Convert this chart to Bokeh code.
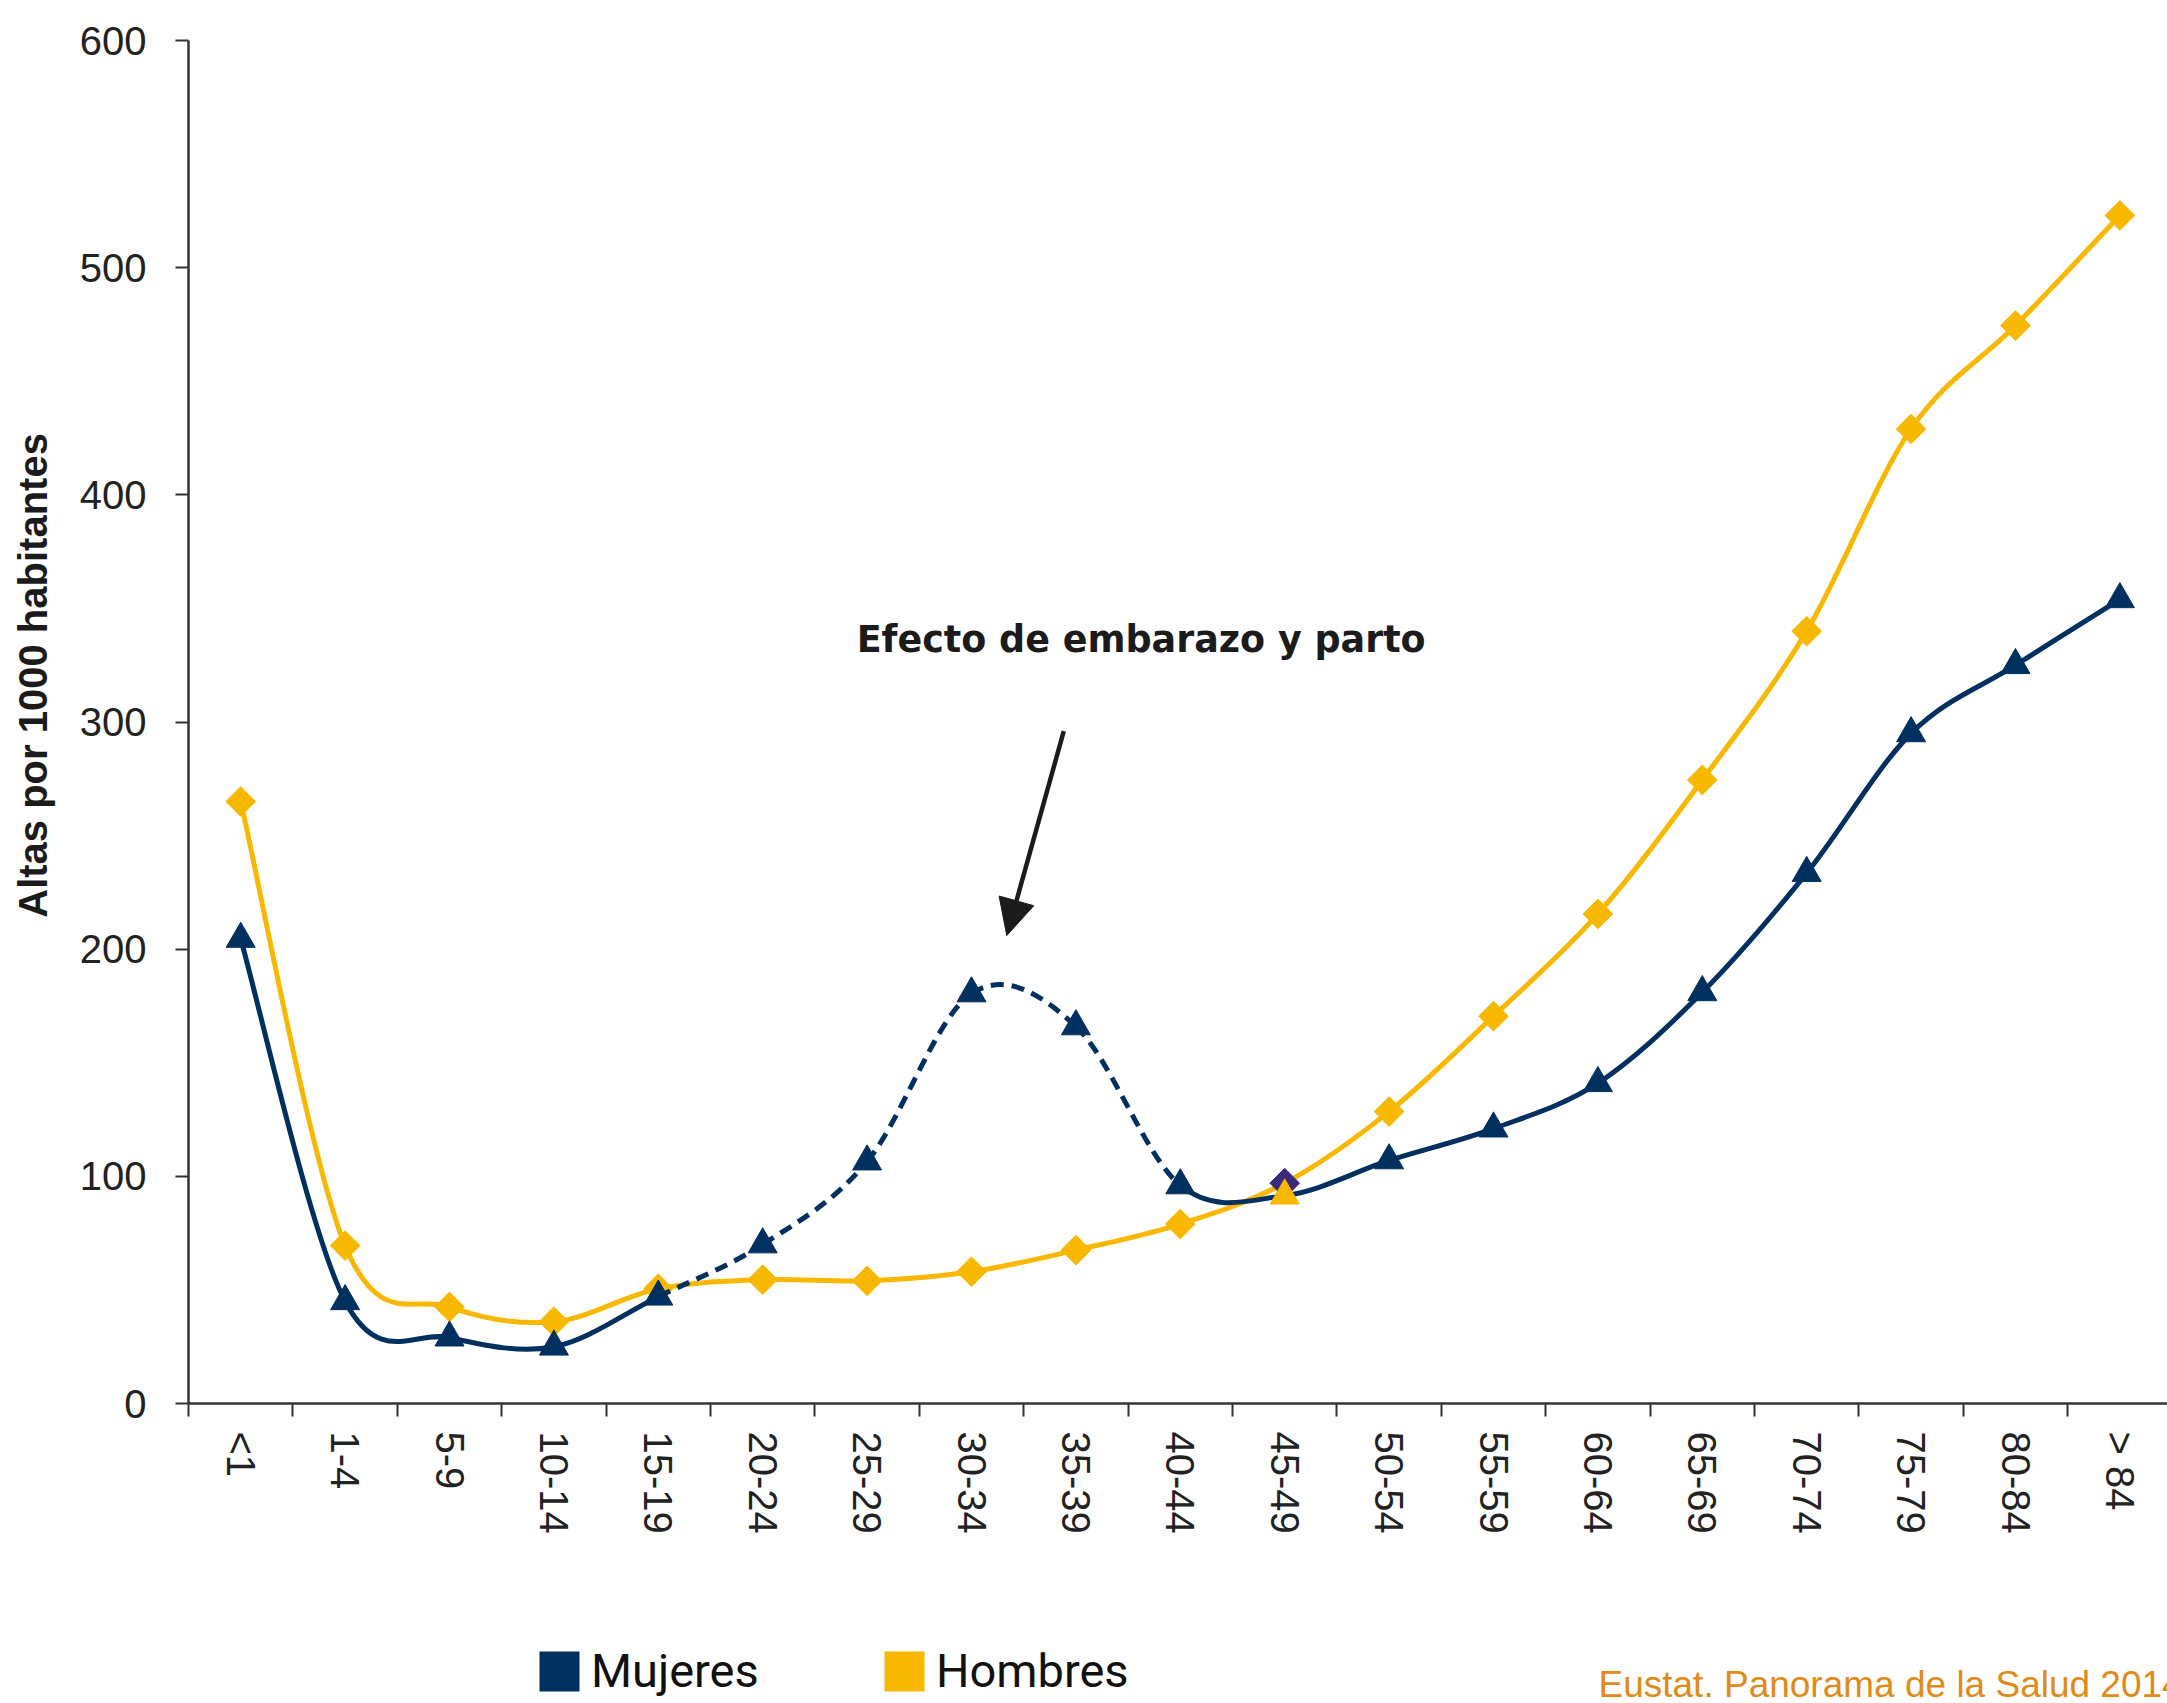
import math
from bokeh.plotting import figure
from bokeh.layouts import column, row
from bokeh.models import (Range1d, FixedTicker, Label, Arrow, NormalHead, Legend,
                          LegendItem, ColumnDataSource)
from bokeh.embed import file_html
from bokeh.resources import INLINE

# ---------------- data ----------------
age_groups = ["<1", "1-4", "5-9", "10-14", "15-19", "20-24", "25-29", "30-34", "35-39",
              "40-44", "45-49", "50-54", "55-59", "60-64", "65-69", "70-74", "75-79",
              "80-84", "> 84"]
mujeres = [204.5, 45, 29, 25, 47, 70, 106.5, 180.5, 166, 96, 91.5, 107, 121, 141, 181,
           233.5, 295, 325, 354]
hombres = [265, 69.5, 42.5, 36, 50.5, 54.5, 54, 58, 67.5, 79, 97, 128.5, 170.5, 215.5,
           274.5, 340, 429, 474.5, 523]
y_ticks = [0, 100, 200, 300, 400, 500, 600]
dashed_from, dashed_to = "15-19", "40-44"   # pregnancy effect section (dashed)
swapped_marker_group = "45-49"              # markers swapped colours in the original

series_names = ["Mujeres", "Hombres"]
annotation_text = "Efecto de embarazo y parto"
y_title = "Altas por 1000 habitantes"
source_text = "Eustat. Panorama de la Salud 2014"

NAVY = "#00305f"
GOLD = "#f8b800"
PURPLE = "#3a2a7d"
INK = "#1b1b1b"
AXIS = "#333333"
SOURCE = "#e08a1a"

# ---------------- helpers ----------------
xs = [i + 0.5 for i in range(len(age_groups))]


def bezier_source(x, y, i_from, i_to):
    """Cubic Bezier (Catmull-Rom style, like a spreadsheet 'smoothed line')."""
    n = len(x)
    d = dict(x0=[], y0=[], x1=[], y1=[], cx0=[], cy0=[], cx1=[], cy1=[])
    for i in range(i_from, i_to):
        i0 = max(i - 1, 0)
        i3 = min(i + 2, n - 1)
        d["x0"].append(x[i]); d["y0"].append(y[i])
        d["x1"].append(x[i + 1]); d["y1"].append(y[i + 1])
        d["cx0"].append(x[i] + (x[i + 1] - x[i0]) / 6)
        d["cy0"].append(y[i] + (y[i + 1] - y[i0]) / 6)
        d["cx1"].append(x[i + 1] - (x[i3] - x[i]) / 6)
        d["cy1"].append(y[i + 1] - (y[i3] - y[i]) / 6)
    return ColumnDataSource(d)


N = len(age_groups)
i_d0 = age_groups.index(dashed_from)
i_d1 = age_groups.index(dashed_to)
i_sw = age_groups.index(swapped_marker_group)

# ---------------- layout sizes ----------------
W, H = 2167, 1703
TITLE_W = 60                 # strip holding the y-axis title
MAIN_H = 1570                # main chart height
BOTTOM_H = H - MAIN_H        # strip holding legend + source
FRAME_L, FRAME_T = 188, 40
FRAME_B = MAIN_H - 1403
px_per_cat = 104.4
main_w = W - TITLE_W
x_end = (W - FRAME_L) / px_per_cat

p = figure(width=main_w, height=MAIN_H, output_backend="svg", toolbar_location=None,
           x_range=Range1d(0, x_end), y_range=Range1d(0, 600),
           min_border_left=FRAME_L - TITLE_W, min_border_right=0, min_border_top=FRAME_T,
           min_border_bottom=FRAME_B)
p.outline_line_color = None
p.xgrid.visible = False
p.ygrid.visible = False

# axes
xa = p.xaxis[0]
xa.ticker = FixedTicker(ticks=xs, minor_ticks=list(range(N + 1)))
xa.major_label_overrides = {x: lab for x, lab in zip(xs, age_groups)}
xa.major_tick_out = 0
xa.major_tick_in = 0
xa.minor_tick_out = 13
xa.minor_tick_in = 0
xa.minor_tick_line_color = AXIS
xa.minor_tick_line_width = 2
xa.axis_line_color = AXIS
xa.axis_line_width = 2.5
xa.major_label_orientation = -math.pi / 2
xa.major_label_standoff = 15
xa.major_label_text_font = "Liberation Sans"
xa.major_label_text_font_size = "40px"
xa.major_label_text_color = "#222222"

ya = p.yaxis[0]
ya.ticker = FixedTicker(ticks=y_ticks)
ya.minor_tick_line_color = None
ya.major_tick_out = 13
ya.major_tick_in = 0
ya.major_tick_line_color = AXIS
ya.major_tick_line_width = 2
ya.axis_line_color = AXIS
ya.axis_line_width = 2.5
ya.major_label_standoff = 29
ya.major_label_text_font = "Liberation Sans"
ya.major_label_text_font_size = "40px"
ya.major_label_text_color = "#222222"

# ---------------- series ----------------
seg = dict(x0="x0", y0="y0", x1="x1", y1="y1", cx0="cx0", cy0="cy0", cx1="cx1", cy1="cy1")
# Hombres (drawn first, underneath)
p.bezier(**seg, source=bezier_source(xs, hombres, 0, N - 1), line_color=GOLD, line_width=5)
h_colors = [PURPLE if i == i_sw else GOLD for i in range(N)]
p.scatter(x=xs, y=hombres, marker="square", angle=math.pi / 4, size=21,
          fill_color=h_colors, line_color=h_colors, line_width=1)

# Mujeres: solid, dashed, solid
p.bezier(**seg, source=bezier_source(xs, mujeres, 0, i_d0), line_color=NAVY, line_width=5)
p.bezier(**seg, source=bezier_source(xs, mujeres, i_d0, i_d1), line_color=NAVY,
         line_width=5, line_dash="13 8")
p.bezier(**seg, source=bezier_source(xs, mujeres, i_d1, N - 1), line_color=NAVY, line_width=5)
m_colors = [GOLD if i == i_sw else NAVY for i in range(N)]
p.scatter(x=xs, y=mujeres, marker="triangle", size=29,
          fill_color=m_colors, line_color=m_colors, line_width=1)

# ---------------- annotation ----------------
p.add_layout(Label(x=6.40, y=336.3, text=annotation_text, text_font="DejaVu Sans",
                   text_font_style="bold", text_font_size="36.5px", text_color=INK,
                   text_baseline="middle"))
p.add_layout(Arrow(x_start=8.384, y_start=296, x_end=7.838, y_end=206,
                   line_color=INK, line_width=4.5,
                   end=NormalHead(size=36, fill_color=INK, line_color=INK, line_width=1)))

# ---------------- y-axis title strip ----------------
pt = figure(width=TITLE_W, height=MAIN_H, output_backend="svg", toolbar_location=None,
            x_range=Range1d(0, TITLE_W), y_range=p.y_range,
            x_axis_type=None, y_axis_type=None,
            min_border_left=0, min_border_right=0, min_border_top=FRAME_T,
            min_border_bottom=FRAME_B)
pt.outline_line_color = None
pt.xgrid.visible = False
pt.ygrid.visible = False
pt.add_layout(Label(x=32.6, y=320.5, text=y_title, angle=math.pi / 2,
                    text_font="Liberation Sans", text_font_style="bold",
                    text_font_size="40px", text_color=INK, text_align="center",
                    text_baseline="middle"))

# ---------------- legend + source strip ----------------
pb = figure(width=W, height=BOTTOM_H, output_backend="svg", toolbar_location=None,
            x_range=Range1d(0, W), y_range=Range1d(0, BOTTOM_H),
            x_axis_type=None, y_axis_type=None,
            min_border_left=0, min_border_right=0, min_border_top=0, min_border_bottom=0)
pb.outline_line_color = None
pb.xgrid.visible = False
pb.ygrid.visible = False

# zero-area swatch renderers (only used to draw the legend squares)
r_m = pb.quad(left=[0], right=[0], top=[0], bottom=[0], fill_color=NAVY, line_color=None)
r_h = pb.quad(left=[0], right=[0], top=[0], bottom=[0], fill_color=GOLD, line_color=None)
for r, name, lx in [(r_m, series_names[0], 534), (r_h, series_names[1], 879)]:
    lg = Legend(items=[LegendItem(label=name, renderers=[r], index=0)], location=(lx, 5),
                orientation="horizontal", glyph_width=50, glyph_height=50,
                label_standoff=7, padding=0, margin=0, spacing=0,
                border_line_color=None, background_fill_alpha=0,
                label_text_font="Roboto", label_text_font_size="47px",
                label_text_color="#111111")
    pb.add_layout(lg, "center")

pb.add_layout(Label(x=1598, y=19.5, text=source_text,
                    text_font="Liberation Sans", text_font_size="37px",
                    text_color=SOURCE, text_baseline="middle"))

layout = column(row(pt, p, spacing=0), pb, spacing=0)
open("out.html", "w").write(file_html(layout, INLINE))
